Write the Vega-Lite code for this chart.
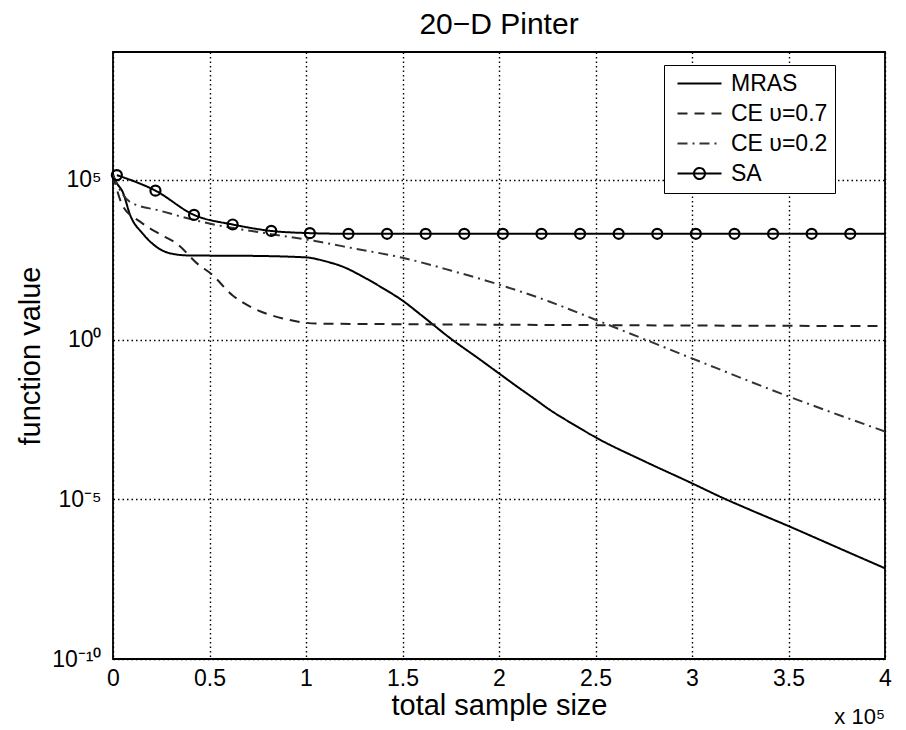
{
  "$schema": "https://vega.github.io/schema/vega-lite/v6.json",
  "width": 772,
  "height": 607,
  "autosize": "none",
  "padding": {"left": 113, "top": 52, "right": 21, "bottom": 71},
  "background": "white",
  "title": {"text": "20−D Pinter", "fontSize": 30, "fontWeight": "normal", "color": "black", "anchor": "middle", "offset": 12, "font": "Liberation Sans"},
  "datasets": {
    "curves": [
      {"series": "MRAS", "samples": 0, "value": 1.4e5},
      {"series": "MRAS", "samples": 2000, "value": 7.9e4},
      {"series": "MRAS", "samples": 5000, "value": 4.17e4},
      {"series": "MRAS", "samples": 9000, "value": 7.59e3},
      {"series": "MRAS", "samples": 15500, "value": 2.04e3},
      {"series": "MRAS", "samples": 24000, "value": 692},
      {"series": "MRAS", "samples": 33000, "value": 457},
      {"series": "MRAS", "samples": 40000, "value": 427},
      {"series": "MRAS", "samples": 70000, "value": 417},
      {"series": "MRAS", "samples": 100000, "value": 372},
      {"series": "MRAS", "samples": 110000, "value": 282},
      {"series": "MRAS", "samples": 119000, "value": 191},
      {"series": "MRAS", "samples": 130000, "value": 89.1},
      {"series": "MRAS", "samples": 140000, "value": 39.8},
      {"series": "MRAS", "samples": 150000, "value": 16.6},
      {"series": "MRAS", "samples": 160000, "value": 5.62},
      {"series": "MRAS", "samples": 175000, "value": 1.07},
      {"series": "MRAS", "samples": 190000, "value": 0.24},
      {"series": "MRAS", "samples": 200000, "value": 0.0871},
      {"series": "MRAS", "samples": 210000, "value": 0.0316},
      {"series": "MRAS", "samples": 218000, "value": 0.01445},
      {"series": "MRAS", "samples": 226000, "value": 0.0065},
      {"series": "MRAS", "samples": 240000, "value": 0.00196},
      {"series": "MRAS", "samples": 250000, "value": 8.71e-4},
      {"series": "MRAS", "samples": 275000, "value": 1.58e-4},
      {"series": "MRAS", "samples": 300000, "value": 3.16e-5},
      {"series": "MRAS", "samples": 316000, "value": 1.1e-5},
      {"series": "MRAS", "samples": 330000, "value": 4.7e-6},
      {"series": "MRAS", "samples": 350000, "value": 1.45e-6},
      {"series": "MRAS", "samples": 375000, "value": 3.16e-7},
      {"series": "MRAS", "samples": 400000, "value": 6.92e-8},

      {"series": "CE υ=0.7", "samples": 0, "value": 1.4e5},
      {"series": "CE υ=0.7", "samples": 5000, "value": 1.55e4},
      {"series": "CE υ=0.7", "samples": 14000, "value": 4.9e3},
      {"series": "CE υ=0.7", "samples": 24000, "value": 2.04e3},
      {"series": "CE υ=0.7", "samples": 33000, "value": 1000},
      {"series": "CE υ=0.7", "samples": 45000, "value": 204},
      {"series": "CE υ=0.7", "samples": 50000, "value": 126},
      {"series": "CE υ=0.7", "samples": 62000, "value": 24.0},
      {"series": "CE υ=0.7", "samples": 73000, "value": 9.33},
      {"series": "CE υ=0.7", "samples": 88000, "value": 4.57},
      {"series": "CE υ=0.7", "samples": 106000, "value": 3.16},
      {"series": "CE υ=0.7", "samples": 150000, "value": 3.02},
      {"series": "CE υ=0.7", "samples": 250000, "value": 2.82},
      {"series": "CE υ=0.7", "samples": 400000, "value": 2.63},

      {"series": "CE υ=0.2", "samples": 0, "value": 1.4e5},
      {"series": "CE υ=0.2", "samples": 3000, "value": 5.62e4},
      {"series": "CE υ=0.2", "samples": 8800, "value": 2.04e4},
      {"series": "CE υ=0.2", "samples": 24500, "value": 1.07e4},
      {"series": "CE υ=0.2", "samples": 50000, "value": 4.27e3},
      {"series": "CE υ=0.2", "samples": 81000, "value": 2.04e3},
      {"series": "CE υ=0.2", "samples": 104000, "value": 1.23e3},
      {"series": "CE υ=0.2", "samples": 125000, "value": 708},
      {"series": "CE υ=0.2", "samples": 150000, "value": 363},
      {"series": "CE υ=0.2", "samples": 175000, "value": 145},
      {"series": "CE υ=0.2", "samples": 200000, "value": 52.5},
      {"series": "CE υ=0.2", "samples": 226000, "value": 15.5},
      {"series": "CE υ=0.2", "samples": 250000, "value": 4.17},
      {"series": "CE υ=0.2", "samples": 300000, "value": 0.257},
      {"series": "CE υ=0.2", "samples": 350000, "value": 0.0166},
      {"series": "CE υ=0.2", "samples": 400000, "value": 0.00132},

      {"series": "SA", "samples": 2000, "value": 1.4e5},
      {"series": "SA", "samples": 22000, "value": 4.57e4},
      {"series": "SA", "samples": 42000, "value": 7.94e3},
      {"series": "SA", "samples": 62000, "value": 3.98e3},
      {"series": "SA", "samples": 82000, "value": 2.51e3},
      {"series": "SA", "samples": 102000, "value": 2.14e3},
      {"series": "SA", "samples": 122000, "value": 2.04e3},
      {"series": "SA", "samples": 142000, "value": 2.04e3},
      {"series": "SA", "samples": 162000, "value": 2.04e3},
      {"series": "SA", "samples": 182000, "value": 2.04e3},
      {"series": "SA", "samples": 202000, "value": 2.04e3},
      {"series": "SA", "samples": 222000, "value": 2.04e3},
      {"series": "SA", "samples": 242000, "value": 2.04e3},
      {"series": "SA", "samples": 262000, "value": 2.04e3},
      {"series": "SA", "samples": 282000, "value": 2.04e3},
      {"series": "SA", "samples": 302000, "value": 2.04e3},
      {"series": "SA", "samples": 322000, "value": 2.04e3},
      {"series": "SA", "samples": 342000, "value": 2.04e3},
      {"series": "SA", "samples": 362000, "value": 2.04e3},
      {"series": "SA", "samples": 382000, "value": 2.04e3},
      {"series": "SA", "samples": 400000, "value": 2.04e3}
    ]
  },
  "layer": [
    {
      "data": {"name": "curves"},
      "mark": {"type": "line", "strokeWidth": 2, "clip": true, "interpolate": "monotone"},
      "encoding": {
        "x": {
          "field": "samples", "type": "quantitative",
          "scale": {"domain": [0, 400000], "nice": false, "zero": false},
          "axis": {"values": [0, 50000, 100000, 150000, 200000, 250000, 300000, 350000, 400000], "labelExpr": "format(datum.value/100000, '~g')", "title": "total sample size", "labelPadding": 8, "titlePadding": 1}
        },
        "y": {
          "field": "value", "type": "quantitative",
          "scale": {"type": "log", "domain": [1e-10, 1e9], "nice": false},
          "axis": {"values": [1e-10, 1e-5, 1, 100000], "labelExpr": "datum.value == 1 ? '10⁰' : datum.value == 100000 ? '10⁵' : datum.value < 1e-7 ? '10⁻¹⁰' : '10⁻⁵'", "title": "function value", "labelPadding": 12, "titlePadding": 6}
        },
        "color": {
          "field": "series", "type": "nominal",
          "scale": {"domain": ["MRAS", "CE υ=0.7", "CE υ=0.2", "SA"], "range": ["black", "#222222", "#333333", "black"]},
          "legend": {
            "title": null,
            "orient": "none",
            "legendX": 551,
            "legendY": 13,
            "symbolType": "stroke",
            "symbolSize": 100,
            "symbolStrokeWidth": 2,
            "symbolOffset": 17,
            "labelFontSize": 23,
            "labelColor": "black",
            "labelOffset": 20,
            "rowPadding": 6,
            "padding": 7,
            "strokeColor": "black",
            "fillColor": "white",
            "encode": {
              "symbols": {"update": {"shape": {"signal": "datum.value === 'SA' ? 'M-4.4,0H4.4M1.1,0A1.1,1.1,0,1,1,-1.1,0A1.1,1.1,0,1,1,1.1,0' : 'M-4.4,0H4.4'"}}}
            }
          }
        },
        "strokeDash": {
          "field": "series", "type": "nominal",
          "scale": {"domain": ["MRAS", "CE υ=0.7", "CE υ=0.2", "SA"], "range": [[1, 0], [10, 7], [10, 5, 2, 5], [1, 0]]}
        }
      }
    },
    {
      "data": {"name": "curves"},
      "transform": [{"filter": "datum.series === 'SA' && datum.samples < 390000"}],
      "mark": {"type": "point", "shape": "circle", "size": 100, "filled": false, "stroke": "black", "strokeWidth": 2.2, "opacity": 1},
      "encoding": {
        "x": {"field": "samples", "type": "quantitative"},
        "y": {"field": "value", "type": "quantitative"}
      }
    },
    {
      "data": {"values": [{"note": "x 10⁵"}]},
      "mark": {"type": "text", "align": "right", "baseline": "middle", "dy": 58, "fontSize": 22, "color": "black"},
      "encoding": {
        "x": {"datum": 400000},
        "y": {"datum": 1e-10},
        "text": {"field": "note"}
      }
    }
  ],
  "config": {
    "font": "Liberation Sans",
    "view": {"stroke": "black", "strokeWidth": 1.8},
    "axis": {
      "domain": false,
      "grid": true,
      "gridColor": "black",
      "gridDash": [1.5, 3],
      "gridWidth": 1.4,
      "gridOpacity": 1,
      "ticks": false,
      "labelColor": "black",
      "labelFontSize": 23,
      "labelFont": "Liberation Sans",
      "titleColor": "black",
      "titleFontSize": 29,
      "titleFontWeight": "normal",
      "titleFont": "Liberation Sans",
      "labelFlush": false,
      "labelOverlap": false
    },
    "legend": {"labelFont": "Liberation Sans"}
  }
}
